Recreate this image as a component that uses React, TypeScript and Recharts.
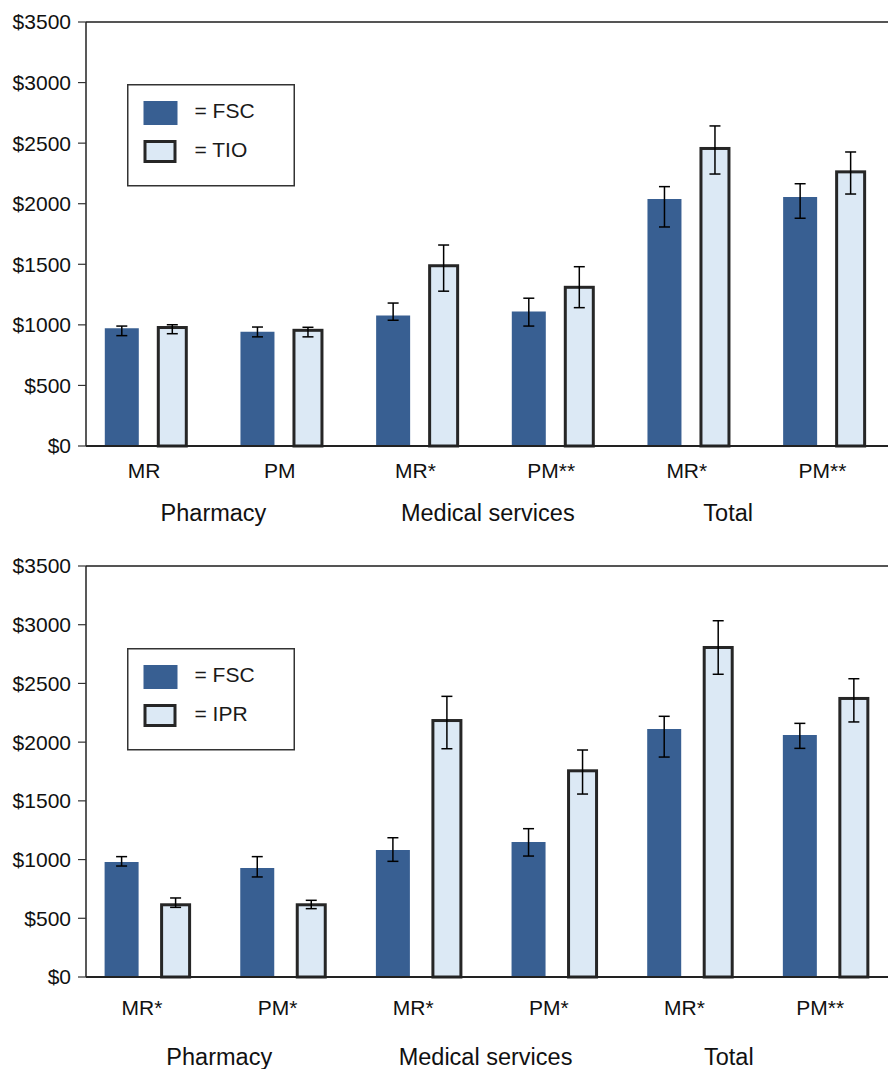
import React from 'react';
import { BarChart, Bar, XAxis, YAxis, ErrorBar, ReferenceLine, Legend } from 'recharts';

// ---------- data ----------
const topCategories = ['MR', 'PM', 'MR*', 'PM**', 'MR*', 'PM**'];
const bottomCategories = ['MR*', 'PM*', 'MR*', 'PM*', 'MR*', 'PM**'];
const groupLabels = ['Pharmacy', 'Medical services', 'Total'];
const yTicks = [0, 500, 1000, 1500, 2000, 2500, 3000, 3500];

const topFsc = [972, 944, 1077, 1111, 2039, 2055];
const topFscLow = [911, 901, 1038, 990, 1808, 1880];
const topFscHigh = [990, 982, 1180, 1220, 2141, 2165];
const topTio = [978, 955, 1488, 1310, 2456, 2263];
const topTioLow = [927, 901, 1278, 1142, 2245, 2080];
const topTioHigh = [1001, 980, 1659, 1480, 2642, 2427];

const bottomFsc = [979, 928, 1082, 1150, 2112, 2061];
const bottomFscLow = [945, 852, 985, 1030, 1873, 1947];
const bottomFscHigh = [1025, 1025, 1186, 1263, 2220, 2160];
const bottomIpr = [615, 615, 2184, 1756, 2806, 2372];
const bottomIprLow = [593, 582, 1944, 1558, 2578, 2172];
const bottomIprHigh = [673, 653, 2390, 1933, 3034, 2540];

// ---------- style ----------
const FONT = 'Liberation Sans, Arial, Helvetica, sans-serif';
const FSC_COLOR = '#385f92';
const ALT_FILL = '#dce9f5';
const ALT_STROKE = '#262626';
const CHART_W = 888;
const Y_AXIS_W = 86;

function buildRows(cats, a, aLow, aHigh, b, bLow, bHigh) {
  return cats.map((c, i) => ({
    cat: c,
    a: a[i],
    aErr: [a[i] - aLow[i], aHigh[i] - a[i]],
    b: b[i],
    bErr: [b[i] - bLow[i], bHigh[i] - b[i]],
  }));
}

const OutlinedBar = (props) => {
  const { x, y, width, height } = props;
  if (width == null || height == null) return null;
  return (
    <rect
      x={x + 3}
      y={y}
      width={Math.max(width - 6, 0)}
      height={height}
      fill={ALT_FILL}
      stroke={ALT_STROKE}
      strokeWidth={3}
    />
  );
};

function makeLegend(names) {
  return (props) => {
    const p = (props && props.payload) || [];
    const n0 = p[0] ? p[0].value : names[0];
    const n1 = p[1] ? p[1].value : names[1];
    return (
      <svg width={168} height={103} style={{ display: 'block' }}>
        <rect x={0.75} y={0.75} width={166.5} height={101} fill="#fff" stroke="#333" strokeWidth={1.5} />
        <rect x={16.5} y={17} width={34} height={24} fill={FSC_COLOR} />
        <rect x={18} y={57.5} width={30} height={20} fill={ALT_FILL} stroke={ALT_STROKE} strokeWidth={3} />
        <text x={67.5} y={34} fontSize={21} fill="#1a1a1a" fontFamily={FONT}>= {n0}</text>
        <text x={67.5} y={73} fontSize={21} fill="#1a1a1a" fontFamily={FONT}>= {n1}</text>
      </svg>
    );
  };
}

function Panel(props) {
  const {
    rows, altName, top, height, marginTop, xAxisHeight, barGap, padL, padR,
    tickDx, tickDy, groupDy, groupDx, legendTop,
  } = props;
  const plotW = CHART_W - Y_AXIS_W;
  const band = (plotW + padL + padR) / rows.length;
  const TickComp = (tp) => {
    const { x, y, payload, index } = tp;
    const idx = index != null ? index : payload.index;
    return (
      <g>
        <text x={x + tickDx} y={y + tickDy} textAnchor="middle" fontSize={21} fill="#111" fontFamily={FONT}>
          {payload.value}
        </text>
        {idx % 2 === 0 ? (
          <text
            x={x + band / 2 + groupDx[idx / 2]}
            y={y + groupDy}
            textAnchor="middle"
            fontSize={23.5}
            fill="#111"
            fontFamily={FONT}
          >
            {groupLabels[idx / 2]}
          </text>
        ) : null}
      </g>
    );
  };
  return (
    <div style={{ position: 'absolute', left: 0, top }}>
      <BarChart
        width={CHART_W}
        height={height}
        data={rows}
        margin={{ top: marginTop, right: 0, bottom: 0, left: 0 }}
        barGap={barGap}
      >
        <XAxis
          dataKey="cat"
          height={xAxisHeight}
          padding={{ left: -padL, right: -padR }}
          axisLine={{ stroke: '#222', strokeWidth: 2 }}
          tickLine={false}
          tickSize={0}
          tickMargin={0}
          interval={0}
          tick={TickComp}
        />
        <YAxis
          width={Y_AXIS_W}
          domain={[0, 3500]}
          ticks={yTicks}
          interval={0}
          tickFormatter={(v) => `$${v}`}
          tick={{ fontSize: 21, fill: '#111', fontFamily: FONT }}
          tickSize={8}
          tickMargin={7}
          axisLine={{ stroke: '#222', strokeWidth: 1.5 }}
          tickLine={{ stroke: '#333', strokeWidth: 1.2 }}
        />
        <ReferenceLine y={3500} stroke="#555" strokeWidth={2} />
        <Legend
          layout="horizontal"
          verticalAlign="middle"
          align="center"
          wrapperStyle={{ left: 127, top: legendTop, width: 168, height: 103 }}
          content={makeLegend(['FSC', altName])}
        />
        <Bar dataKey="a" name="FSC" fill={FSC_COLOR} barSize={34} isAnimationActive={false}>
          <ErrorBar dataKey="aErr" width={5.5} stroke="#000" strokeWidth={1.5} />
        </Bar>
        <Bar dataKey="b" name={altName} fill={ALT_FILL} barSize={34} shape={OutlinedBar} isAnimationActive={false}>
          <ErrorBar dataKey="bErr" width={5.5} stroke="#000" strokeWidth={1.5} />
        </Bar>
      </BarChart>
    </div>
  );
}

export default function App() {
  const topRows = buildRows(topCategories, topFsc, topFscLow, topFscHigh, topTio, topTioLow, topTioHigh);
  const bottomRows = buildRows(bottomCategories, bottomFsc, bottomFscLow, bottomFscHigh, bottomIpr, bottomIprLow, bottomIprHigh);
  return (
    <div style={{ position: 'absolute', left: 0, top: 0, width: 888, height: 1069, background: '#fff', fontFamily: FONT }}>
      <Panel
        rows={topRows}
        altName="TIO"
        top={0}
        height={540}
        marginTop={22}
        xAxisHeight={94}
        barGap={16.5}
        padL={7.2}
        padR={4.8}
        tickDx={-2.5}
        tickDy={32}
        groupDy={75}
        groupDx={[-1, 2, -29]}
        legendTop={83.5}
      />
      <Panel
        rows={bottomRows}
        altName="IPR"
        top={540}
        height={529}
        marginTop={26}
        xAxisHeight={92}
        barGap={20}
        padL={5.4}
        padR={6.5}
        tickDx={-6.5}
        tickDy={38}
        groupDy={88}
        groupDx={[3, -2, -30]}
        legendTop={107.5}
      />
    </div>
  );
}
